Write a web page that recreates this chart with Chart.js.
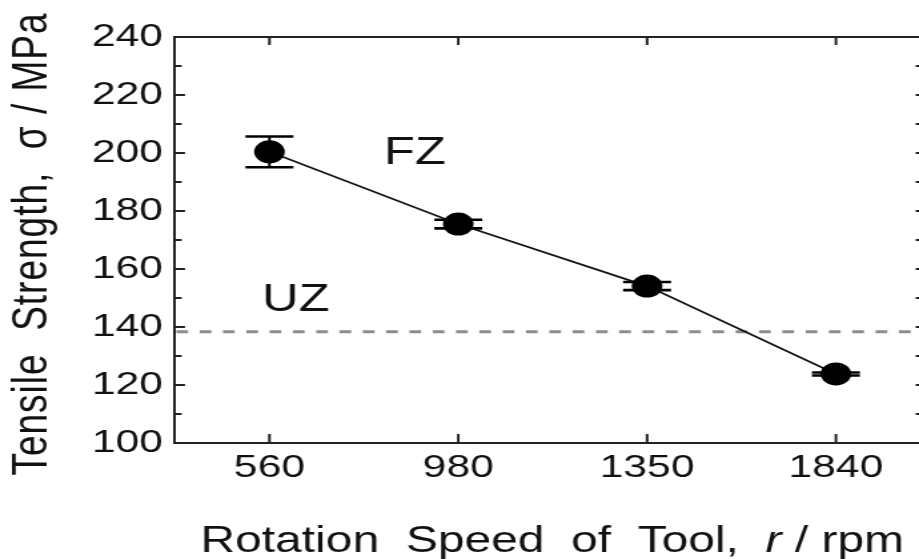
<!DOCTYPE html>
<html><head><meta charset="utf-8">
<script src="https://cdn.jsdelivr.net/npm/chart.js@4"></script>
<style>
html,body{margin:0;padding:0;background:#fff;overflow:hidden;}
#wrap{width:919px;height:559px;overflow:hidden;background:#fff;}
#c{display:block;transform:scaleX(1.33188);transform-origin:0 0;}
</style></head><body>
<div id="wrap"><canvas id="c" width="690" height="559"></canvas></div>
<script>
// ---- data ----
const speeds = ['560', '980', '1350', '1840'];          // rotation speed categories (rpm)
const strength = [200.4, 175.5, 154.1, 123.8];          // tensile strength, MPa
const strengthErr = [5.3, 1.5, 1.4, 0.5];               // error bar half-heights, MPa
const uzLevel = 138.4;                                  // unaffected-zone level (dashed line)
const yTickValues = [100, 120, 140, 160, 180, 200, 220, 240];
const yMinorValues = [110, 130, 150, 170, 190, 210, 230];
const zoneNames = ['FZ', 'UZ'];
const zoneX = [0.77, 0.14];
const zoneY = [199.7, 149];
const xTitleParts = ['Rotation  Speed  of  Tool,  ', 'r', ' / rpm'];
const yTitle = 'Tensile  Strength,  σ / MPa';

const FAM = '"Liberation Sans", Arial, sans-serif';
Chart.defaults.font.family = FAM;
Chart.defaults.color = '#111';

const decor = {
  id: 'decor',
  beforeDatasetsDraw(chart) {
    const {ctx, chartArea: a, scales: {x, y}} = chart;
    ctx.save();
    ctx.strokeStyle = '#222';
    ctx.lineWidth = 2;
    // top frame line
    ctx.beginPath(); ctx.moveTo(a.left - 1, a.top); ctx.lineTo(a.right, a.top); ctx.stroke();
    // y ticks (inward)
    const yt = (v, len) => {
      const py = y.getPixelForValue(v);
      ctx.beginPath(); ctx.moveTo(a.left, py); ctx.lineTo(a.left + len, py); ctx.stroke();
      ctx.beginPath(); ctx.moveTo(a.right, py); ctx.lineTo(a.right - 2.5, py); ctx.stroke();
    };
    yTickValues.forEach(v => yt(v, 7.5));
    yMinorValues.forEach(v => yt(v, 5));
    // x ticks (inward, top and bottom)
    speeds.forEach((s, i) => {
      const px = x.getPixelForValue(i);
      ctx.beginPath(); ctx.moveTo(px, a.bottom); ctx.lineTo(px, a.bottom - 9); ctx.stroke();
      ctx.beginPath(); ctx.moveTo(px, a.top); ctx.lineTo(px, a.top + 8); ctx.stroke();
    });
    // dashed UZ line
    const pu = y.getPixelForValue(uzLevel);
    ctx.save();
    ctx.strokeStyle = '#8c8c8c';
    ctx.lineWidth = 3;
    ctx.setLineDash([8.8, 8.7]);
    ctx.beginPath(); ctx.moveTo(a.left + 1, pu); ctx.lineTo(a.right, pu); ctx.stroke();
    ctx.restore();
    // error bars
    ctx.strokeStyle = '#000';
    strength.forEach((v, i) => {
      const px = x.getPixelForValue(i);
      const pt = y.getPixelForValue(v + strengthErr[i]);
      const pb = y.getPixelForValue(v - strengthErr[i]);
      ctx.lineWidth = 2;
      ctx.beginPath(); ctx.moveTo(px, pt); ctx.lineTo(px, pb); ctx.stroke();
      ctx.lineWidth = 2.6;
      ctx.beginPath(); ctx.moveTo(px - 18, pt); ctx.lineTo(px + 18, pt); ctx.stroke();
      ctx.beginPath(); ctx.moveTo(px - 18, pb); ctx.lineTo(px + 18, pb); ctx.stroke();
    });
    ctx.restore();
  },
  afterDatasetsDraw(chart) {
    const {ctx, chartArea: a, scales: {x, y}} = chart;
    ctx.save();
    ctx.fillStyle = '#111';
    ctx.font = '38px ' + FAM;
    ctx.textAlign = 'center';
    ctx.textBaseline = 'middle';
    zoneNames.forEach((t, i) => {
      ctx.fillText(t, x.getPixelForValue(zoneX[i]), y.getPixelForValue(zoneY[i]));
    });
    // x axis title with italic symbol
    const fonts = ['36px ' + FAM, 'italic 36px ' + FAM, '36px ' + FAM];
    const widths = xTitleParts.map((p, i) => { ctx.font = fonts[i]; return ctx.measureText(p).width; });
    const total = widths.reduce((s, w) => s + w, 0);
    let cx = (a.left + a.right) / 2 + 4 - total / 2;
    ctx.textAlign = 'left';
    ctx.textBaseline = 'alphabetic';
    xTitleParts.forEach((p, i) => { ctx.font = fonts[i]; ctx.fillText(p, cx, 551.5); cx += widths[i]; });
    // y axis title (rotated)
    ctx.save();
    ctx.translate(24.8, (a.top + a.bottom) / 2 + 4);
    ctx.rotate(-Math.PI / 2);
    ctx.font = '37px ' + FAM;
    try { ctx.letterSpacing = '1px'; } catch (e) {}
    ctx.textAlign = 'center';
    ctx.textBaseline = 'middle';
    ctx.fillText(yTitle, 0, 0);
    ctx.restore();
    ctx.restore();
  }
};

new Chart(document.getElementById('c'), {
  type: 'line',
  data: {
    datasets: [{
      data: strength.map((v, i) => ({x: i, y: v})),
      borderColor: '#111',
      borderWidth: 1.7,
      pointRadius: 11.5,
      pointHoverRadius: 11.5,
      pointBackgroundColor: '#000',
      pointBorderWidth: 0,
      tension: 0,
      fill: false,
      clip: false
    }]
  },
  options: {
    responsive: false,
    animation: false,
    devicePixelRatio: 1,
    layout: {autoPadding: false, padding: {top: 37, right: 0, left: 0, bottom: 0}},
    plugins: {legend: {display: false}, tooltip: {enabled: false}},
    scales: {
      x: {
        type: 'linear',
        min: -0.5,
        max: 3.44,
        afterBuildTicks: s => { s.ticks = speeds.map((_, i) => ({value: i})); },
        afterFit: s => { s.height = 116; s.paddingLeft = 0; s.paddingRight = 0; },
        grid: {display: false, drawTicks: false},
        border: {display: true, color: '#222', width: 2},
        ticks: {
          padding: 9,
          maxRotation: 0,
          autoSkip: false,
          font: {size: 32, lineHeight: 1},
          color: '#111',
          callback: v => speeds[v]
        },
        title: {display: false}
      },
      y: {
        min: 100,
        max: 240,
        afterBuildTicks: s => { s.ticks = yTickValues.map(v => ({value: v})); },
        afterFit: s => { s.width = 131.4; s.paddingTop = 0; s.paddingBottom = 0; },
        grid: {display: false, drawTicks: false},
        border: {display: true, color: '#222', width: 2},
        ticks: {padding: 9, font: {size: 32, lineHeight: 1}, color: '#111'},
        title: {display: false}
      }
    }
  },
  plugins: [decor]
});
</script>
</body></html>
